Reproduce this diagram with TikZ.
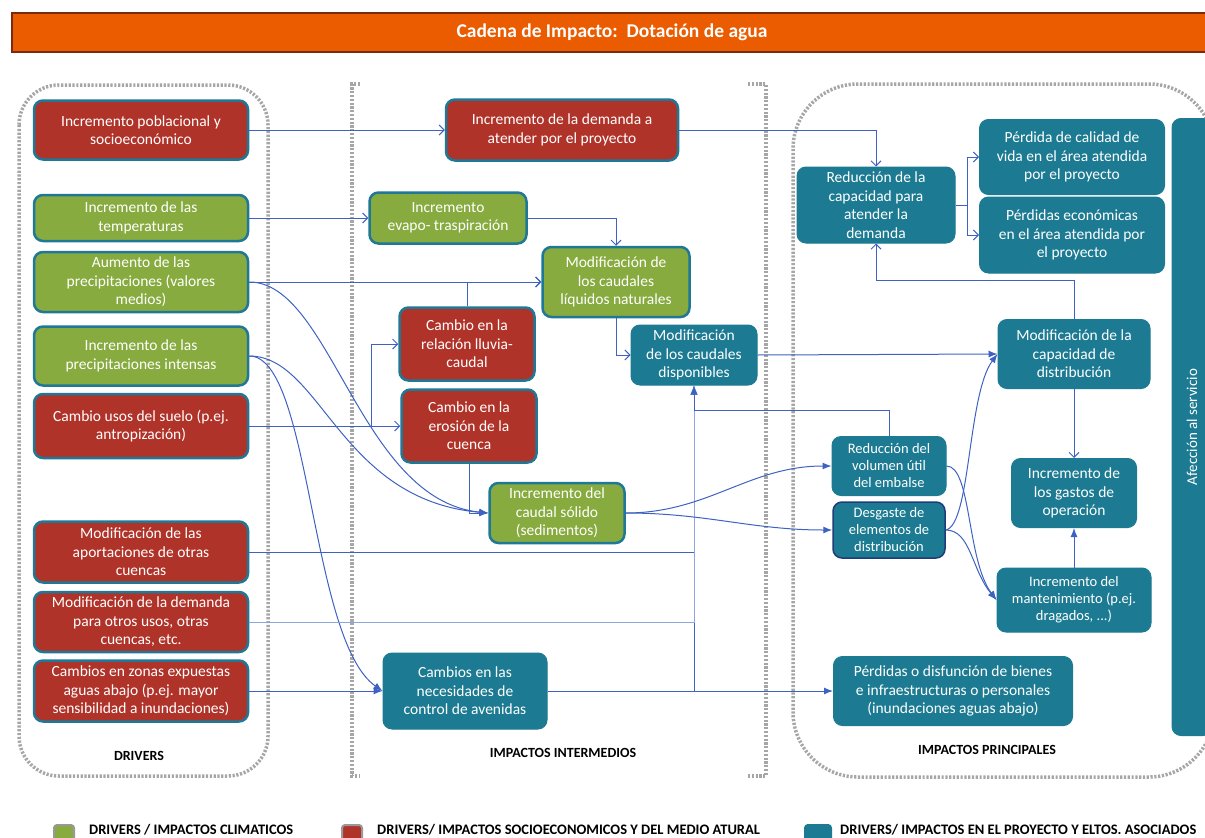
\documentclass[tikz,border=0pt]{standalone}
\usepackage{fontspec}
\setmainfont{Carlito}
\usetikzlibrary{arrows.meta,positioning,calc}
\definecolor{redbox}{HTML}{B0332A}
\definecolor{greenbox}{HTML}{87AB3E}
\definecolor{tealbox}{HTML}{1C7B92}
\definecolor{edge}{HTML}{1F7896}
\definecolor{navyedge}{HTML}{1F3C78}
\definecolor{link}{HTML}{3D62C2}
\definecolor{linklight}{HTML}{8EA6DE}
\definecolor{titlebar}{HTML}{EB5B00}
\definecolor{titleedge}{HTML}{7A2A10}

\begin{document}
\begin{tikzpicture}[x=1pt, y=-1pt,
  box/.style={rectangle, rounded corners=9pt, draw=edge, line width=2.5pt, fill=#1,
    text=white, align=center, font=\fontsize{15.5}{18.5}\selectfont, inner sep=2pt},
  tbox/.style={box=tealbox, draw=tealbox, line width=1pt},
  small/.style={font=\fontsize{14.5}{17}\selectfont},
  group/.style={draw=black!35, line width=3.5pt, dash pattern=on 2.2pt off 1.6pt},
  grplabel/.style={font=\fontsize{14}{16}\selectfont\bfseries},
  legsq/.style={rectangle, rounded corners=3pt, draw=black!40, line width=2pt, fill=#1, minimum size=20pt},
  legtxt/.style={anchor=base west, inner sep=0pt, font=\fontsize{14.5}{16}\selectfont\bfseries},
  arr/.style={-{Straight Barb[length=5pt,width=10pt]}, link, line width=1pt},
  arrf/.style={-{Latex[length=9pt,width=7pt]}, link, line width=1pt}
]
  \clip (0,0) rectangle (1205,838);

  % Title
  \node[rectangle, fill=titlebar, draw=titleedge, line width=2pt, minimum width=1200, minimum height=39,
    text=white, font=\fontsize{19.5}{22}\selectfont\bfseries] (ttl) at (612,32) {Cadena de Impacto:\ \ Dotación de agua};

  % Groups
  \draw[group, rounded corners=40pt] (19,85) rectangle (268,776);
  \draw[group] (360,84) -- (352,84) -- (352,776) -- (360,776);
  \draw[group] (748,84) -- (766,84) -- (766,776) -- (748,776);
  \draw[group, rounded corners=65pt] (793,84) rectangle (1214,777);
  \node[grplabel] (gdrv) at (139,756) {DRIVERS};
  \node[grplabel] (gint) at (563,753) {IMPACTOS INTERMEDIOS};
  \node[grplabel] (gpri) at (987,750) {IMPACTOS PRINCIPALES};

  % Drivers
  \node[box=redbox, minimum width=214, minimum height=59] (pob) at (141,130) {Incremento poblacional y\\socioeconómico};
  \node[box=greenbox, minimum width=214, minimum height=46] (temp) at (141,218) {Incremento de las\\temperaturas};
  \node[box=greenbox, minimum width=214, minimum height=60] (aum) at (141,282) {Aumento de las\\precipitaciones (valores\\medios)};
  \node[box=greenbox, minimum width=214, minimum height=59] (inten) at (141,356) {Incremento de las\\precipitaciones intensas};
  \node[box=redbox, minimum width=214, minimum height=64] (suelo) at (141,426) {Cambio usos del suelo (p.ej.\\antropización)};
  \node[box=redbox, minimum width=214, minimum height=61] (aport) at (141,552) {Modificación de las\\aportaciones de otras\\cuencas};
  \node[box=redbox, minimum width=214, minimum height=60] (otros) at (141,622) {Modificación de la demanda\\para otros usos, otras\\cuencas, etc.};
  \node[box=redbox, minimum width=214, minimum height=61] (expu) at (141,691) {Cambios en zonas expuestas\\aguas abajo (p.ej. mayor\\sensibilidad a inundaciones)};

  % Impactos intermedios
  \node[box=redbox, minimum width=232, minimum height=61] (dem) at (562,130) {Incremento de la demanda a\\atender por el proyecto};
  \node[box=greenbox, minimum width=157, minimum height=51] (evap) at (448,218) {Incremento\\evapo- traspiración};
  \node[box=greenbox, minimum width=147, minimum height=70] (liq) at (616,282) {Modificación de\\los caudales\\líquidos naturales};
  \node[box=redbox, minimum width=135, minimum height=73] (lluv) at (467,344) {Cambio en la\\relación lluvia-\\caudal};
  \node[box=redbox, minimum width=135, minimum height=73] (eros) at (469,426) {Cambio en la\\erosión de la\\cuenca};
  \node[tbox, minimum width=126, minimum height=60] (disp) at (694,355) {Modificación\\de los caudales\\disponibles};
  \node[box=greenbox, minimum width=135, minimum height=60] (sol) at (557,513) {Incremento del\\caudal sólido\\(sedimentos)};
  \node[tbox, minimum width=164, minimum height=76] (nec) at (465,691) {Cambios en las\\necesidades de\\control de avenidas};

  % Impactos principales
  \node[tbox, minimum width=158, minimum height=76] (reduc) at (876,205) {Reducción de la\\capacidad para\\atender la\\demanda};
  \node[tbox, minimum width=185, minimum height=75] (calid) at (1072,157) {Pérdida de calidad de\\vida en el área atendida\\por el proyecto};
  \node[tbox, minimum width=185, minimum height=76] (econ) at (1072,235) {Pérdidas económicas\\en el área atendida por\\el proyecto};
  \node[tbox, minimum width=152, minimum height=69] (capd) at (1074,354) {Modificación de la\\capacidad de\\distribución};
  \node[tbox, small, minimum width=114, minimum height=59] (vol) at (889,466) {Reducción del\\volumen útil\\del embalse};
  \node[tbox, small, draw=navyedge, line width=1.5pt, minimum width=112, minimum height=56] (desg) at (889,530) {Desgaste de\\elementos de\\distribución};
  \node[tbox, minimum width=125, minimum height=69] (gast) at (1074,493) {Incremento de\\los gastos de\\operación};
  \node[tbox, small, minimum width=154, minimum height=64] (mant) at (1074,600) {Incremento del\\mantenimiento (p.ej.\\dragados, ...)};
  \node[tbox, minimum width=239, minimum height=69] (perd) at (953,691) {Pérdidas o disfunción de bienes\\e infraestructuras o personales\\(inundaciones aguas abajo)};
  \node[tbox, rotate=90, minimum width=617, minimum height=40, font=\fontsize{15}{17}\selectfont] (afec) at (1192,427) {Afección al servicio};

  % Connections
  \draw[arr] (pob.east) -- (dem.west);
  \draw[arr] (dem.east) -| (reduc.north);
  \draw[arr] (temp.east) -- (evap.west);
  \draw[arr] (evap.east) -| (liq.north);
  \draw[arr] (aum.east) -- (liq.west);
  \draw[arr] (lluv.north) |- (liq.west);
  \draw[arr] (suelo.east) -- (eros.west);
  \draw[arr] (suelo.east) -- ++(122,0) |- (lluv.west);
  \draw[arr] (liq.south) |- (disp.west);
  \draw[arr] (capd.north) -- ++(0,-39) -| (reduc.south);
  \draw[arr] (reduc.east) -- ++(12,0) |- (calid.west);
  \draw[arr] (reduc.east) -- ++(12,0) |- (econ.west);
  \draw[arr] (capd.south) -- (gast.north);

  \draw[arrf] (aum.east) .. controls +(82,0) and +(-129,-13) .. (sol.west);
  \draw[arrf] (inten.east) .. controls +(72,0) and +(-149,-13) .. (sol.west);
  \draw[arrf] (inten.east) .. controls +(62,0) and +(-73,-51) .. (nec.west);
  \draw[arrf] (eros.south) |- (sol.west);
  \draw[arrf] (expu.east) -- (nec.west);
  \draw[arrf] (nec.east) -- (perd.west);
  \draw[arrf] (nec.east) -| (disp.south);
  \draw[arrf] (aport.east) -| (disp.south);
  \draw[arrf, linklight] (otros.east) -| (disp.south);
  \draw[arrf] (vol.north) -- ++(0,-26) -| (disp.south);
  \draw[arrf] (disp.east) -- (capd.west);
  \draw[arrf] (sol.east) to[out=0, in=180] (vol.west);
  \draw[arrf] (sol.east) to[out=0, in=180] (desg.west);
  \draw[arrf] (vol.east) .. controls +(25,0) and +(-30,-40) .. (mant.west);
  \draw[arrf] (desg.east) .. controls +(25,0) and +(-25,-30) .. (mant.west);
  \draw[arrf] (desg.east) .. controls +(25,-5) and +(-30,40) .. (capd.west);
  \draw[arrf] (mant.north) -- (gast.south);

  % Legend
  \node[legsq=greenbox] (lg1) at (64,835) {};
  \node[legtxt] (lt1) at (89,834) {DRIVERS / IMPACTOS CLIMATICOS};
  \node[legsq=redbox] (lg2) at (352,835) {};
  \node[legtxt] (lt2) at (377,834) {DRIVERS/ IMPACTOS SOCIOECONOMICOS Y DEL MEDIO ATURAL};
  \node[legsq=tealbox, draw=tealbox, minimum width=26] (lg3) at (818,835) {};
  \node[legtxt] (lt3) at (840,834) {DRIVERS/ IMPACTOS EN EL PROYECTO Y ELTOS. ASOCIADOS};
\end{tikzpicture}
\end{document}
